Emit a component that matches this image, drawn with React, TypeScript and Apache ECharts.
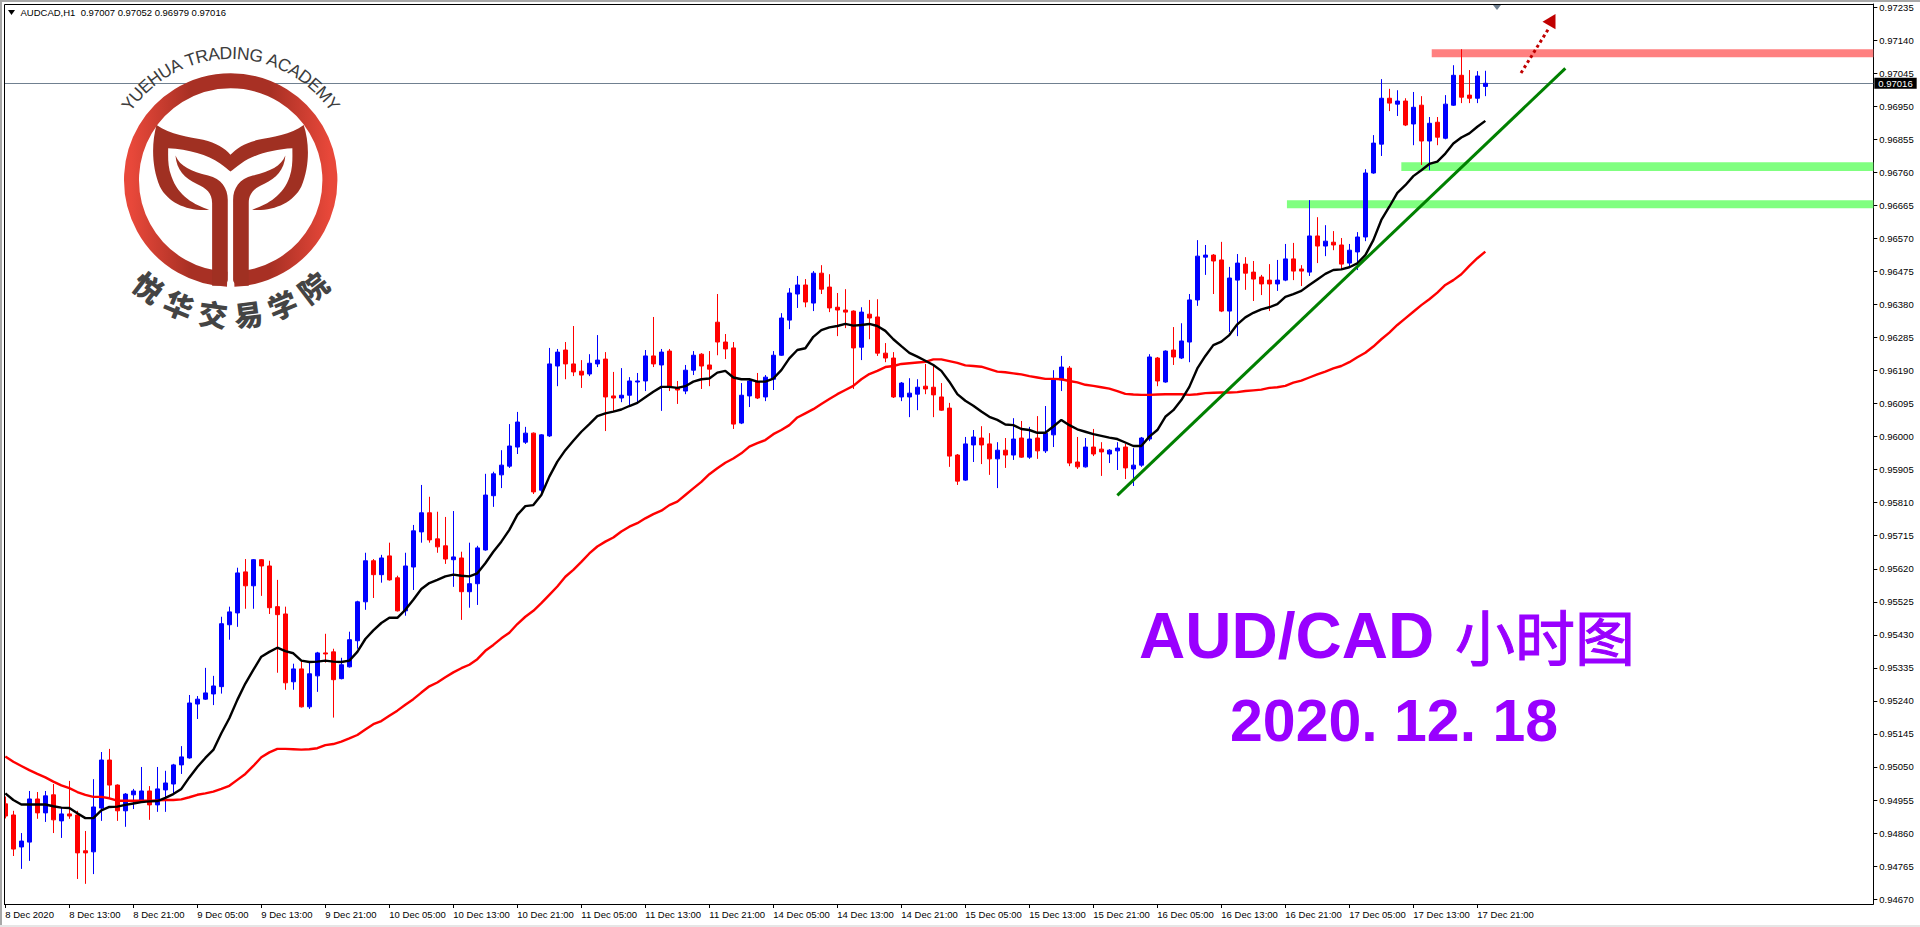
import React, { useEffect, useRef } from "react";
import * as echarts from "echarts";

// Prices are stored in points (1 point = 0.00001)
const opens = [
  94944,94912,94820,94834,94958,94918,94970,94895,94915,94912,
  94809,94806,94932,95070,94998,94924,94970,94955,94981,94941,
  94984,95001,95056,95076,95231,95245,95260,95281,95459,95493,
  95611,95571,95646,95628,95511,95490,95295,95332,95223,95312,
  95378,95381,95304,95338,95413,95525,95643,95603,95657,95594,
  95499,95625,95726,95781,95706,95686,95646,95651,95554,95577,
  95674,95830,95890,95915,95970,95984,96010,95846,96002,96203,
  96249,96209,96188,96180,96209,96223,96117,96111,96119,96157,
  96160,96232,96206,96246,96140,96131,96191,96237,96206,96329,
  96272,96255,96039,96117,96157,96114,96165,96234,96335,96410,
  96436,96384,96470,96430,96372,96364,96361,96257,96352,96344,
  96240,96226,96114,96114,96122,96145,96142,96114,96082,95947,
  95875,95976,95996,95979,95936,95961,95947,95996,95941,95996,
  95959,96005,96163,96197,95927,95913,95970,95964,95950,95959,
  95970,95907,95918,95993,96226,96157,96249,96226,96272,96393,
  96516,96522,96508,96361,96450,96496,96473,96459,96450,96439,
  96450,96511,96482,96473,96577,96548,96559,96551,96499,96531,
  96574,96758,96841,96973,96956,96965,96899,96953,96850,96904,
  96858,96953,97039,96982,96973,97007,
];
const highs = [
  94965,94924,94860,94981,94978,94981,95001,94932,95010,94924,
  94866,95015,95093,95102,95000,94975,94987,95050,94995,95050,
  95039,95059,95110,95257,95254,95335,95312,95482,95511,95623,
  95648,95648,95648,95643,95588,95511,95347,95355,95352,95381,
  95433,95390,95364,95439,95528,95666,95648,95660,95695,95600,
  95666,95746,95861,95827,95784,95769,95786,95669,95695,95686,
  95893,95899,95961,96036,96071,96028,96012,96007,96255,96252,
  96272,96318,96220,96237,96292,96243,96186,96197,96171,96183,
  96249,96344,96252,96252,96160,96206,96246,96240,96246,96410,
  96295,96272,96154,96168,96183,96177,96246,96355,96427,96462,
  96453,96476,96493,96467,96413,96424,96363,96372,96393,96395,
  96269,96243,96157,96168,96165,96209,96209,96154,96097,95950,
  95999,96019,96030,96010,95984,95996,96053,96045,96028,96059,
  96088,96191,96232,96203,95999,95996,96022,95984,95964,95984,
  95979,95967,95999,96237,96229,96248,96315,96326,96410,96565,
  96551,96525,96560,96488,96525,96516,96505,96465,96496,96508,
  96554,96557,96493,96680,96631,96608,96591,96571,96554,96588,
  96769,96867,97028,97000,96996,96973,96991,96979,96919,96919,
  96982,97068,97114,97054,97051,97052,
];
const lows = [
  94902,94794,94757,94780,94901,94892,94860,94846,94901,94728,
  94714,94742,94895,94961,94895,94878,94929,94953,94898,94921,
  94921,94970,95030,95074,95188,95243,95228,95261,95416,95453,
  95505,95505,95542,95490,95321,95272,95272,95221,95217,95266,
  95350,95192,95302,95336,95390,95502,95536,95580,95586,95497,
  95485,95559,95695,95695,95666,95634,95568,95473,95508,95516,
  95672,95798,95852,95910,95950,95979,95835,95832,95999,96145,
  96165,96174,96140,96174,96200,96016,96074,96099,96091,96099,
  96131,96200,96074,96131,96094,96122,96177,96137,96145,96234,
  96223,96022,96036,96085,96108,96102,96134,96232,96309,96370,
  96372,96361,96410,96358,96289,96312,96137,96220,96280,96232,
  96214,96111,96102,96056,96076,96122,96056,96074,95913,95861,
  95873,95927,95921,95890,95852,95910,95933,95939,95936,95936,
  95953,95970,96131,95915,95907,95911,95944,95887,95924,95904,
  95878,95858,95913,95987,96145,96155,96206,96223,96214,96376,
  96465,96410,96358,96301,96289,96422,96390,96407,96361,96419,
  96447,96450,96433,96462,96499,96519,96536,96482,96490,96479,
  96562,96756,96807,96936,96922,96893,96838,96781,96766,96838,
  96855,96951,96959,96959,96959,96979,
];
const closes = [
  94909,94814,94837,94958,94918,94967,94898,94915,94909,94803,
  94803,94935,95070,94998,94924,94972,94981,94981,94941,94987,
  95004,95056,95079,95234,95245,95263,95283,95462,95496,95608,
  95571,95646,95628,95508,95488,95292,95332,95223,95318,95378,
  95375,95301,95344,95416,95525,95643,95603,95651,95588,95499,
  95628,95729,95781,95703,95683,95648,95654,95554,95577,95680,
  95832,95893,95918,95973,96042,96010,95841,96005,96209,96243,
  96209,96186,96177,96211,96220,96114,96111,96119,96160,96160,
  96232,96209,96243,96142,96134,96191,96234,96203,96194,96272,
  96252,96036,96119,96160,96111,96171,96234,96341,96413,96436,
  96387,96470,96424,96370,96364,96358,96255,96358,96341,96240,
  96226,96114,96154,96125,96142,96137,96120,96076,95944,95872,
  95979,95999,95976,95936,95961,95947,95993,95941,95993,95959,
  96010,96165,96200,95924,95913,95970,95950,95956,95961,95967,
  95910,95918,95996,96229,96160,96246,96229,96275,96393,96519,
  96522,96505,96361,96456,96499,96470,96453,96439,96439,96450,
  96511,96476,96476,96577,96548,96562,96551,96496,96536,96574,
  96758,96844,96973,96959,96965,96896,96947,96850,96901,96861,
  96956,97039,96976,96973,97037,97016,
];
const blackMA = [
  94974,94955,94942,94942,94942,94942,94937,94933,94932,94917,
  94903,94903,94925,94935,94936,94941,94945,94949,94951,94952,
  94961,94972,94987,95020,95050,95076,95099,95147,95190,95243,
  95290,95329,95367,95381,95393,95383,95377,95356,95352,95353,
  95356,95353,95352,95356,95381,95418,95443,95464,95479,95479,
  95502,95531,95562,95579,95588,95598,95603,95600,95598,95607,
  95636,95669,95698,95732,95775,95800,95803,95832,95885,95928,
  95961,95988,96014,96036,96059,96067,96072,96078,96088,96097,
  96113,96129,96143,96143,96140,96145,96158,96165,96167,96184,
  96189,96170,96165,96165,96158,96158,96167,96191,96225,96249,
  96254,96287,96306,96314,96318,96324,96319,96321,96324,96318,
  96304,96280,96260,96241,96230,96218,96206,96189,96158,96122,
  96103,96089,96072,96057,96048,96035,96033,96022,96019,96011,
  96011,96029,96048,96033,96021,96014,96007,96002,95997,95993,
  95983,95973,95973,96000,96019,96057,96076,96105,96143,96196,
  96232,96263,96273,96292,96323,96343,96356,96366,96372,96381,
  96402,96410,96419,96436,96452,96468,96479,96481,96487,96498,
  96522,96565,96623,96661,96701,96723,96749,96766,96784,96791,
  96814,96843,96860,96872,96891,96908,
];
const redMA = [
  95080,95065,95053,95041,95030,95020,95008,94997,94989,94978,
  94970,94964,94964,94960,94953,94953,94953,94953,94953,94954,
  94955,94955,94957,94963,94970,94974,94979,94987,94996,95013,
  95030,95053,95078,95092,95102,95102,95101,95100,95101,95104,
  95113,95116,95123,95132,95142,95158,95173,95182,95197,95212,
  95229,95245,95264,95282,95293,95308,95322,95334,95344,95360,
  95384,95401,95420,95436,95461,95482,95499,95521,95545,95569,
  95597,95617,95640,95664,95684,95698,95710,95727,95741,95751,
  95765,95777,95787,95803,95813,95832,95851,95870,95892,95909,
  95925,95937,95952,95971,95981,95990,96007,96019,96033,96055,
  96067,96079,96094,96108,96122,96134,96146,96165,96180,96189,
  96200,96203,96209,96211,96213,96215,96222,96222,96217,96212,
  96205,96203,96201,96194,96187,96185,96182,96179,96174,96170,
  96166,96166,96165,96160,96156,96149,96146,96142,96138,96131,
  96123,96121,96120,96120,96121,96122,96122,96122,96120,96122,
  96125,96126,96127,96127,96128,96131,96133,96135,96140,96142,
  96146,96155,96161,96170,96179,96187,96196,96203,96214,96228,
  96241,96259,96280,96299,96321,96340,96359,96378,96395,96414,
  96436,96450,96467,96491,96513,96532,
];

const timeLabels = [
  "8 Dec 2020","8 Dec 13:00","8 Dec 21:00","9 Dec 05:00","9 Dec 13:00","9 Dec 21:00",
  "10 Dec 05:00","10 Dec 13:00","10 Dec 21:00","11 Dec 05:00","11 Dec 13:00","11 Dec 21:00",
  "14 Dec 05:00","14 Dec 13:00","14 Dec 21:00","15 Dec 05:00","15 Dec 13:00","15 Dec 21:00",
  "16 Dec 05:00","16 Dec 13:00","16 Dec 21:00","17 Dec 05:00","17 Dec 13:00","17 Dec 21:00",
];
const priceLabels = [
  "0.97235","0.97140","0.97045","0.96950","0.96855","0.96760","0.96665","0.96570","0.96475","0.96380",
  "0.96285","0.96190","0.96095","0.96000","0.95905","0.95810","0.95715","0.95620","0.95525","0.95430",
  "0.95335","0.95240","0.95145","0.95050","0.94955","0.94860","0.94765","0.94670",
];
const lastPrice = 0.97016;
const headerText = "AUDCAD,H1  0.97007 0.97052 0.96979 0.97016";

// Horizontal zones: first bar (fractional), upper and lower price
const zoneStart = [178.3, 174.5, 160.2];
const zoneTop = [97114, 96789, 96680];
const zoneBottom = [97091, 96764, 96657];
const zoneColor = ["#ff8080", "#80ff80", "#80ff80"];

// Trend line end points: bar index and price
const trendBars = [139, 195];
const trendPrices = [0.95831, 0.97059];

const BAR_SLOTS = 234;
const P = (v: number) => v / 100000;
const small = '"Liberation Sans",sans-serif';

const LOGO_D =
  "M470 375 C510 405 570 410 610 420 C650 430 675 445 692 465 C710 445 735 430 775 420 C815 410 875 405 912 375 C930 430 930 500 905 560 C880 610 820 635 757 630 C800 615 850 590 870 530 C880 500 878 470 878 445 C820 448 760 465 725 490 C710 500 700 510 692 515 C685 510 675 500 660 490 C625 465 565 448 505 445 C505 470 503 500 515 530 C535 590 585 615 628 630 C565 635 505 610 480 560 C455 500 455 430 470 375 Z " +
  "M527 467 C540 500 575 515 625 527 C665 537 684 565 684 600 L684 840 C684 850 672 858 655 858 L637 858 L637 610 C637 580 620 565 590 552 C555 535 530 510 527 467 Z " +
  "M857 467 C844 500 809 515 759 527 C719 537 700 565 700 600 L700 840 C700 850 712 858 729 858 L747 858 L747 610 C747 580 764 565 794 552 C829 535 854 510 857 467 Z";
echarts.graphic.registerShape("yuehuaLogo", (echarts.graphic as any).extendPath(LOGO_D, {}));

const LOGO_CX = 230.7;
const LOGO_CY = 180;
const latin = "YUEHUA TRADING ACADEMY";
const latinAdv: Record<string, number> = {
  Y: 0.667, U: 0.722, E: 0.667, H: 0.722, A: 0.667, " ": 0.278, T: 0.611, R: 0.722,
  D: 0.722, I: 0.278, N: 0.722, G: 0.778, C: 0.722, M: 0.833,
};
const cjk = ["悦", "华", "交", "易", "学", "院"];

function logoGraphics(): any[] {
  const out: any[] = [];
  const ringGrad = new echarts.graphic.LinearGradient(0, 0, 1, 0, [
    { offset: 0, color: "#e8483a" },
    { offset: 0.3, color: "#a83024" },
    { offset: 0.7, color: "#a83024" },
    { offset: 1, color: "#e8483a" },
  ]);
  out.push({
    type: "arc",
    z: 50,
    shape: {
      cx: LOGO_CX, cy: LOGO_CY, r: 99.2,
      startAngle: (92 * Math.PI) / 180, endAngle: (448 * Math.PI) / 180, clockwise: true,
    },
    style: { stroke: ringGrad, lineWidth: 15, fill: "none" },
  });
  out.push({ type: "yuehuaLogo", z: 50, x: 0, y: 0, scaleX: 1 / 3, scaleY: 1 / 3, style: { fill: "#a03022" } });

  const size = 17.5;
  const r = 127;
  const total = latin.split("").reduce((s, c) => s + latinAdv[c] * size, 0);
  let run = -total / 2;
  latin.split("").forEach((c) => {
    const w = latinAdv[c] * size;
    const phi = (run + w / 2) / r;
    run += w;
    if (c === " ") return;
    out.push({
      type: "text", z: 51,
      x: LOGO_CX + r * Math.sin(phi), y: LOGO_CY - r * Math.cos(phi), rotation: -phi,
      style: {
        text: c, fill: "#3c3c3c", fontSize: size, fontFamily: '"Liberation Sans",sans-serif',
        align: "center", verticalAlign: "middle",
      },
    });
  });
  const angles = [37.5, 22.5, 7.5, -7.5, -22.5, -37.5];
  cjk.forEach((c, i) => {
    const a = (angles[i] * Math.PI) / 180;
    out.push({
      type: "text", z: 51,
      x: LOGO_CX - 134 * Math.sin(a), y: LOGO_CY + 134 * Math.cos(a), rotation: -a,
      style: {
        text: c, fill: "#444444", fontSize: 29, fontWeight: 900, fontFamily: '"Noto Sans CJK SC",sans-serif',
        align: "center", verticalAlign: "middle",
      },
    });
  });
  return out;
}

export default function App() {
  const ref = useRef<HTMLDivElement>(null);
  useEffect(() => {
    const chart = echarts.init(ref.current!, undefined, { renderer: "svg" });
    const categories = Array.from({ length: BAR_SLOTS }, (_, i) => String(i));
    const isLabelled = (i: number) => i % 8 === 0 && i / 8 < timeLabels.length;
    const priceValues = priceLabels.map(parseFloat);

    chart.setOption({
      animation: false,
      backgroundColor: "#ffffff",
      grid: { left: 1.33, top: 4, width: BAR_SLOTS * 8, height: 900, containLabel: false, outerBoundsMode: "none" },
      xAxis: {
        type: "category",
        data: categories,
        boundaryGap: true,
        axisLine: { show: true, onZero: false, lineStyle: { color: "#000000", width: 1 } },
        axisTick: {
          show: true, alignWithLabel: true, length: 4,
          interval: (i: number) => isLabelled(i),
          lineStyle: { color: "#000000" },
        },
        axisLabel: {
          show: true,
          interval: (i: number) => isLabelled(i),
          formatter: (_v: string, i: number) => (isLabelled(i) ? timeLabels[i / 8] : ""),
          align: "left",
          margin: 5,
          color: "#000000",
          fontSize: 9.5,
          fontFamily: small,
          hideOverlap: false,
        },
        splitLine: { show: false },
      },
      yAxis: {
        type: "value",
        position: "right",
        min: 0.94656,
        max: 0.97244,
        scale: true,
        axisLine: { show: true, lineStyle: { color: "#000000", width: 1 } },
        axisTick: { show: true, length: 4, customValues: priceValues, lineStyle: { color: "#000000" } },
        axisLabel: {
          show: true,
          customValues: priceValues,
          formatter: (v: number) => v.toFixed(5),
          margin: 6,
          color: "#000000",
          fontSize: 9.5,
          fontFamily: small,
        },
        splitLine: { show: false },
      },
      series: [
        {
          type: "custom",
          z: 1,
          silent: true,
          encode: { x: 0, y: [1, 2] },
          data: zoneStart.map((s, i) => [Math.floor(s), P(zoneTop[i]), P(zoneBottom[i]), s - Math.floor(s), i]),
          renderItem: (_p: any, api: any) => {
            const band = api.size([1, 0])[0];
            const a = api.coord([api.value(0), api.value(1)]);
            const b = api.coord([BAR_SLOTS - 1, api.value(2)]);
            const x0 = a[0] + api.value(3) * band;
            return {
              type: "rect",
              shape: { x: x0, y: a[1], width: b[0] + band / 2 - x0, height: b[1] - a[1] },
              style: { fill: zoneColor[api.value(4)] },
            };
          },
        },
        {
          type: "candlestick",
          z: 2,
          barWidth: 4,
          data: opens.map((o, i) => [P(o), P(closes[i]), P(lows[i]), P(highs[i])]),
          itemStyle: {
            color: "#0000ff", color0: "#ff0000",
            borderColor: "#0000ff", borderColor0: "#ff0000", borderWidth: 1,
          },
          markLine: {
            silent: true,
            symbol: "none",
            precision: 5,
            z: 1,
            animation: false,
            lineStyle: { color: "#708090", width: 1, type: "solid" },
            label: {
              position: "end", distance: 1, formatter: lastPrice.toFixed(5),
              color: "#ffffff", backgroundColor: "#000000", padding: [1, 4, 0, 4],
              fontSize: 9.5, fontFamily: small,
            },
            data: [{ yAxis: lastPrice }],
          },
        },
        {
          type: "line", z: 3, name: "MA red", showSymbol: false, symbol: "none", silent: true,
          data: redMA.map(P),
          lineStyle: { color: "#ff0000", width: 2.4 },
        },
        {
          type: "line", z: 4, name: "MA black", showSymbol: false, symbol: "none", silent: true,
          data: blackMA.map(P),
          lineStyle: { color: "#000000", width: 2.4 },
          markLine: {
            silent: true, symbol: "none", animation: false, precision: 5,
            lineStyle: { color: "#008000", width: 3, type: "solid" },
            label: { show: false },
            data: [[
              { coord: [String(trendBars[0]), trendPrices[0]] },
              { coord: [String(trendBars[1]), trendPrices[1]] },
            ]],
          },
        },
      ],
      graphic: {
        elements: [
          { type: "rect", z: 40, shape: { x: 0, y: 0, width: 4, height: 905 }, style: { fill: "#ffffff" } },
          { type: "rect", z: 41, shape: { x: 0, y: 0, width: 1920, height: 2 }, style: { fill: "#a8a8a8" } },
          { type: "rect", z: 41, shape: { x: 0, y: 0, width: 2, height: 927 }, style: { fill: "#a8a8a8" } },
          { type: "rect", z: 41, shape: { x: 0, y: 925, width: 1920, height: 2 }, style: { fill: "#e6e6e6" } },
          { type: "line", z: 42, shape: { x1: 4.5, y1: 4.5, x2: 1873.5, y2: 4.5 }, style: { stroke: "#000000", lineWidth: 1 } },
          { type: "line", z: 42, shape: { x1: 4.5, y1: 4.5, x2: 4.5, y2: 904.5 }, style: { stroke: "#000000", lineWidth: 1 } },
          { type: "polygon", z: 42, shape: { points: [[8, 10], [15, 10], [11.5, 15]] }, style: { fill: "#000000" } },
          {
            type: "text", z: 42, x: 20.5, y: 12.5,
            style: { text: headerText, fill: "#000000", fontSize: 9.5, fontFamily: small, verticalAlign: "middle" },
          },
          { type: "polygon", z: 42, shape: { points: [[1493, 5], [1501, 5], [1497, 10]] }, style: { fill: "#708090" } },
          // dotted arrow
          {
            type: "line", z: 42,
            shape: { x1: 1521, y1: 73, x2: 1549, y2: 28 },
            style: { stroke: "#c00000", lineWidth: 3, lineDash: [3, 3] },
          },
          {
            type: "polygon", z: 42,
            shape: { points: [[1555.5, 14], [1542.5, 21.7], [1555.5, 29.3]] },
            style: { fill: "#c00000" },
          },
          ...logoGraphics(),
          {
            type: "text", z: 45, x: 1139, y: 636,
            style: {
              text: "AUD/CAD", fill: "#9900ff", fontSize: 64, fontWeight: "bold",
              fontFamily: '"Liberation Sans",sans-serif', verticalAlign: "middle",
            },
          },
          {
            type: "text", z: 45, x: 1455, y: 634,
            style: {
              text: "小时图", fill: "#9900ff", stroke: "#9900ff", lineWidth: 1, fontSize: 60,
              fontFamily: '"Noto Sans CJK SC",sans-serif', verticalAlign: "middle",
            },
          },
          {
            type: "text", z: 45, x: 1230, y: 721,
            style: {
              text: "2020. 12. 18", fill: "#9900ff", fontSize: 59, fontWeight: "bold",
              fontFamily: '"Liberation Sans",sans-serif', verticalAlign: "middle",
            },
          },
        ],
      },
    });
    return () => chart.dispose();
  }, []);
  return <div ref={ref} style={{ position: "fixed", left: 0, top: 0, width: 1920, height: 927 }} />;
}
